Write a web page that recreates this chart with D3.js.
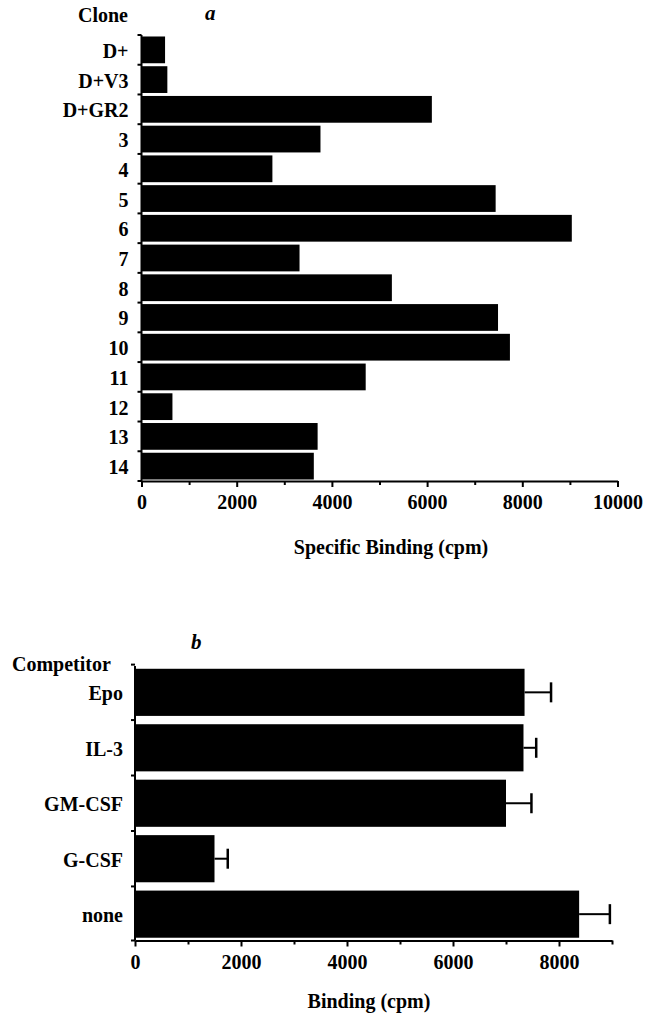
<!DOCTYPE html>
<html>
<head>
<meta charset="utf-8">
<script src="https://cdn.jsdelivr.net/npm/d3@7"></script>
<style>
  html, body { margin: 0; padding: 0; background: #fff; }
  svg { display: block; }
  text { font-family: "Liberation Serif", "Times New Roman", serif; font-weight: bold; fill: #000; }
</style>
</head>
<body>
<svg id="chart" width="656" height="1019"></svg>
<script>
// ---- Panel a data ----
const clones = ["D+", "D+V3", "D+GR2", "3", "4", "5", "6", "7", "8", "9", "10", "11", "12", "13", "14"];
const cloneBinding = [495, 543, 6100, 3760, 2750, 7440, 9040, 3320, 5260, 7490, 7740, 4710, 650, 3700, 3620];
const bindingTicksA = [0, 2000, 4000, 6000, 8000, 10000];

// ---- Panel b data ----
const competitors = ["Epo", "IL-3", "GM-CSF", "G-CSF", "none"];
const competitorBinding = [7350, 7330, 7000, 1500, 8380];
const competitorError = [500, 240, 480, 250, 580];
const bindingTicksB = [0, 2000, 4000, 6000, 8000];

const svg = d3.select("#chart");

function panel(opts) {
  const g = svg.append("g");
  const x = d3.scaleLinear().domain([0, opts.xMax]).range([opts.x0, opts.x1]);
  const y = d3.scaleBand().domain(opts.cats).range([opts.y0, opts.y1])
    .paddingInner(opts.padIn).paddingOuter(opts.padOut);

  // bars
  g.selectAll("rect.bar").data(opts.cats).join("rect")
    .attr("class", "bar")
    .attr("x", x(0))
    .attr("y", d => y(d))
    .attr("width", (d, i) => x(opts.values[i]) - x(0))
    .attr("height", y.bandwidth())
    .attr("fill", "#000");

  // error bars
  if (opts.errors) {
    const eg = g.append("g");
    opts.cats.forEach((c, i) => {
      const cy = y(c) + y.bandwidth() / 2;
      const xe = x(opts.values[i] + opts.errors[i]);
      eg.append("line").attr("x1", x(opts.values[i])).attr("x2", xe)
        .attr("y1", cy).attr("y2", cy).attr("stroke", "#000").attr("stroke-width", 2);
      eg.append("line").attr("x1", xe).attr("x2", xe)
        .attr("y1", cy - 10).attr("y2", cy + 10).attr("stroke", "#000").attr("stroke-width", 2.5);
    });
  }

  // x axis
  const allTicks = d3.range(0, opts.xMax + 1, 1000);
  const xa = g.append("g").attr("transform", `translate(0,${opts.y1})`)
    .call(d3.axisBottom(x).tickValues(allTicks).tickSize(6).tickSizeOuter(0)
      .tickFormat(d => opts.labels.includes(d) ? String(d) : ""));
  xa.select(".domain").attr("stroke-width", 2);
  xa.selectAll(".tick line").attr("stroke-width", 2)
    .attr("y2", d => opts.labels.includes(d) ? 6 : 4);
  xa.selectAll(".tick text").attr("font-size", 20).attr("dy", "0.95em")
    .style("font-family", "Liberation Serif, serif").style("font-weight", "bold");

  // y axis labels
  const ya = g.append("g").attr("transform", `translate(${opts.x0},0)`)
    .call(d3.axisLeft(y).tickSize(0).tickPadding(opts.labPad));
  ya.select(".domain").remove();
  ya.selectAll(".tick text").attr("font-size", 20).attr("dy", "0.4em")
    .style("font-family", "Liberation Serif, serif").style("font-weight", "bold");
  // y axis line + boundary ticks
  g.append("line").attr("x1", opts.x0).attr("x2", opts.x0)
    .attr("y1", opts.y0).attr("y2", opts.y1).attr("stroke", "#000").attr("stroke-width", 2);
  const bounds = opts.cats.map(c => y(c) - y.step() * y.paddingInner() / 2);
  bounds.push(opts.y1);
  g.selectAll("line.yt").data(bounds).join("line").attr("class", "yt")
    .attr("x1", opts.x0 - 4).attr("x2", opts.x0)
    .attr("y1", d => d).attr("y2", d => d)
    .attr("stroke", "#000").attr("stroke-width", 2);

  // titles
  g.append("text").attr("x", opts.catTitle[0]).attr("y", opts.catTitle[1])
    .attr("font-size", 20).text(opts.catTitleText);
  g.append("text").attr("x", opts.letter[0]).attr("y", opts.letter[1])
    .attr("font-size", 21).attr("font-style", "italic").text(opts.letterText);
  g.append("text").attr("x", opts.xTitle[0]).attr("y", opts.xTitle[1])
    .attr("text-anchor", "middle").attr("font-size", 20).text(opts.xTitleText);
}

panel({
  cats: clones, values: cloneBinding, xMax: 10000, labels: bindingTicksA,
  x0: 141.5, x1: 617.5, y0: 35, y1: 481, padIn: 0.1, padOut: 0.05, labPad: 13,
  catTitleText: "Clone", catTitle: [78, 22],
  letterText: "a", letter: [205, 20],
  xTitleText: "Specific Binding (cpm)", xTitle: [391, 554]
});

panel({
  cats: competitors, values: competitorBinding, errors: competitorError, xMax: 9000, labels: bindingTicksB,
  x0: 135, x1: 612, y0: 666, y1: 940.5, padIn: 0.15, padOut: 0.05, labPad: 12,
  catTitleText: "Competitor", catTitle: [12, 671],
  letterText: "b", letter: [191, 649],
  xTitleText: "Binding (cpm)", xTitle: [369, 1008]
});
</script>
</body>
</html>
